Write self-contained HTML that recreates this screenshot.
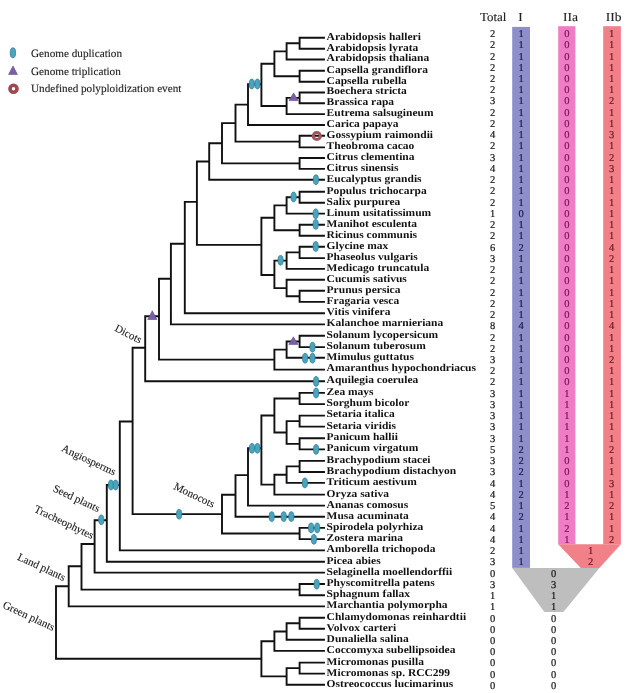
<!DOCTYPE html>
<html><head><meta charset="utf-8"><style>
html,body{margin:0;padding:0;background:#fff;}
svg{display:block;will-change:transform;} text{text-rendering:geometricPrecision;}
.nm{font-family:"Liberation Serif",serif;font-weight:bold;font-size:10.5px;fill:#111;}
.dg{font-family:"Liberation Serif",serif;font-size:10.5px;fill:#151515;stroke:#151515;stroke-width:0.2px;}
.b1{fill:#1c1c4a;stroke:#1c1c4a;} .b2{fill:#7a1458;stroke:#7a1458;} .b3{fill:#6a1a24;stroke:#6a1a24;}
.cl{font-family:"Liberation Serif",serif;font-size:11px;fill:#1a1a1a;stroke:#1a1a1a;stroke-width:0.1px;}
.lg{font-family:"Liberation Serif",serif;font-size:11.2px;fill:#222;stroke:#222;stroke-width:0.12px;}
.hd{font-family:"Liberation Serif",serif;font-size:12.3px;fill:#222;stroke:#222;stroke-width:0.12px;}
</style></head><body>
<svg width="627" height="693" viewBox="0 0 627 693">

<rect x="512.2" y="26.9" width="17.8" height="541" fill="#8d8eca"/>
<rect x="558.2" y="26.2" width="17.2" height="518.2" fill="#f07cc6"/>
<rect x="603.2" y="26.2" width="17.7" height="518.2" fill="#f28088"/>
<polygon points="558.2,544.3 620.9,544.3 599.4,567.9 580.8,567.9" fill="#f28088"/>
<polygon points="512.2,567.9 599.4,567.9 563.4,612.1 544.4,612.1" fill="#bfbebe"/>

<path d="M299.6 37.7H324.0 M299.6 48.7H324.0 M299.6 37.7V48.7 M286.6 43.2H299.6 M286.6 59.5H324.0 M286.6 43.2V59.5 M274.4 51.4H286.6 M299.6 70.8H324.0 M299.6 81.7H324.0 M299.6 70.8V81.7 M274.4 76.2H299.6 M274.4 51.4V76.2 M261.4 63.8H274.4 M299.6 92.5H324.0 M299.6 103.3H324.0 M299.6 92.5V103.3 M286.6 97.9H299.6 M286.6 114.1H324.0 M286.6 97.9V114.1 M261.4 106.0H286.6 M261.4 63.8V106.0 M248.0 84.2H261.4 M248.0 125.0H324.0 M248.0 84.2V125.0 M235.5 104.6H248.0 M299.6 135.8H324.0 M299.6 147.4H324.0 M299.6 135.8V147.4 M235.5 141.6H299.6 M235.5 104.6V141.6 M222.0 123.1H235.5 M299.6 158.0H324.0 M299.6 168.9H324.0 M299.6 158.0V168.9 M222.0 163.4H299.6 M222.0 123.1V163.4 M209.2 143.3H222.0 M209.2 179.7H324.0 M209.2 143.3V179.7 M196.9 161.5H209.2 M299.6 191.8H324.0 M299.6 202.8H324.0 M299.6 191.8V202.8 M286.6 197.3H299.6 M286.6 213.6H324.0 M286.6 197.3V213.6 M274.4 205.4H286.6 M299.6 224.8H324.0 M299.6 235.7H324.0 M299.6 224.8V235.7 M274.4 230.2H299.6 M274.4 205.4V230.2 M261.4 217.8H274.4 M299.6 246.7H324.0 M299.6 258.1H324.0 M299.6 246.7V258.1 M286.6 252.4H299.6 M286.6 268.9H324.0 M286.6 252.4V268.9 M274.4 260.6H286.6 M286.6 279.8H324.0 M299.6 290.8H324.0 M299.6 301.9H324.0 M299.6 290.8V301.9 M286.6 296.3H299.6 M286.6 279.8V296.3 M274.4 288.1H286.6 M274.4 260.6V288.1 M261.4 275.0H274.4 M261.4 217.8V275.0 M196.9 244.9H261.4 M196.9 161.5V244.9 M184.8 201.9H196.9 M184.8 313.3H324.0 M184.8 201.9V313.3 M170.9 243.7H184.8 M170.9 324.4H324.0 M170.9 243.7V324.4 M159.0 278.7H170.9 M299.6 335.8H324.0 M299.6 347.1H324.0 M299.6 335.8V347.1 M286.6 341.5H299.6 M286.6 357.8H324.0 M286.6 341.5V357.8 M274.4 349.6H286.6 M274.4 369.6H324.0 M274.4 349.6V369.6 M159.0 359.6H274.4 M159.0 278.7V359.6 M145.2 316.3H159.0 M145.2 381.2H324.0 M145.2 316.3V381.2 M132.6 347.7H145.2 M299.6 392.9H324.0 M299.6 404.1H324.0 M299.6 392.9V404.1 M274.4 398.5H299.6 M299.6 415.6H324.0 M299.6 426.6H324.0 M299.6 415.6V426.6 M286.6 421.1H299.6 M299.6 438.3H324.0 M299.6 449.4H324.0 M299.6 438.3V449.4 M286.6 443.9H299.6 M286.6 421.1V443.9 M274.4 432.5H286.6 M274.4 398.5V432.5 M261.4 415.5H274.4 M299.6 460.9H324.0 M299.6 472.0H324.0 M299.6 460.9V472.0 M286.6 466.4H299.6 M286.6 482.9H324.0 M286.6 466.4V482.9 M274.4 474.7H286.6 M274.4 494.6H324.0 M274.4 474.7V494.6 M261.4 484.6H274.4 M261.4 415.5V484.6 M248.0 448.3H261.4 M248.0 505.6H324.0 M248.0 448.3V505.6 M235.5 475.1H248.0 M235.5 516.8H324.0 M235.5 475.1V516.8 M222.0 494.8H235.5 M299.6 527.9H324.0 M299.6 539.1H324.0 M299.6 527.9V539.1 M222.0 533.5H299.6 M222.0 494.8V533.5 M132.6 514.1H222.0 M132.6 347.7V514.1 M119.8 421.5H132.6 M119.8 550.4H324.0 M119.8 421.5V550.4 M106.8 485.0H119.8 M106.8 561.7H324.0 M106.8 485.0V561.7 M94.6 520.2H106.8 M94.6 572.6H324.0 M94.6 520.2V572.6 M81.5 544.0H94.6 M299.6 584.0H324.0 M299.6 595.3H324.0 M299.6 584.0V595.3 M81.5 589.6H299.6 M81.5 544.0V589.6 M68.7 566.3H81.5 M68.7 606.4H324.0 M68.7 566.3V606.4 M56.0 586.2H68.7 M299.6 617.8H324.0 M299.6 628.8H324.0 M299.6 617.8V628.8 M286.6 623.2H299.6 M286.6 639.8H324.0 M286.6 623.2V639.8 M274.4 631.5H286.6 M274.4 650.9H324.0 M274.4 631.5V650.9 M261.4 641.2H274.4 M299.6 662.6H324.0 M299.6 673.6H324.0 M299.6 662.6V673.6 M286.6 668.1H299.6 M286.6 684.7H324.0 M286.6 668.1V684.7 M261.4 676.4H286.6 M261.4 641.2V676.4 M56.0 658.8H261.4 M56.0 586.2V658.8" stroke="#111" stroke-width="1.9" fill="none" stroke-linecap="square"/>
<ellipse cx="251.8" cy="84" rx="2.6" ry="4.9" fill="#4aa4be" stroke="#327f97" stroke-width="0.8"/><ellipse cx="257.4" cy="84" rx="2.6" ry="4.9" fill="#4aa4be" stroke="#327f97" stroke-width="0.8"/><ellipse cx="315.9" cy="179.7" rx="2.6" ry="4.9" fill="#4aa4be" stroke="#327f97" stroke-width="0.8"/><ellipse cx="293.6" cy="197" rx="2.6" ry="4.9" fill="#4aa4be" stroke="#327f97" stroke-width="0.8"/><ellipse cx="315.7" cy="213.8" rx="2.6" ry="4.9" fill="#4aa4be" stroke="#327f97" stroke-width="0.8"/><ellipse cx="315.7" cy="224.4" rx="2.6" ry="4.9" fill="#4aa4be" stroke="#327f97" stroke-width="0.8"/><ellipse cx="315.7" cy="246.5" rx="2.6" ry="4.9" fill="#4aa4be" stroke="#327f97" stroke-width="0.8"/><ellipse cx="280.6" cy="260.3" rx="2.6" ry="4.9" fill="#4aa4be" stroke="#327f97" stroke-width="0.8"/><ellipse cx="312.5" cy="347.2" rx="2.6" ry="4.9" fill="#4aa4be" stroke="#327f97" stroke-width="0.8"/><ellipse cx="305.1" cy="358.2" rx="2.6" ry="4.9" fill="#4aa4be" stroke="#327f97" stroke-width="0.8"/><ellipse cx="312.5" cy="358.2" rx="2.6" ry="4.9" fill="#4aa4be" stroke="#327f97" stroke-width="0.8"/><ellipse cx="316.1" cy="381.4" rx="2.6" ry="4.9" fill="#4aa4be" stroke="#327f97" stroke-width="0.8"/><ellipse cx="316.1" cy="393" rx="2.6" ry="4.9" fill="#4aa4be" stroke="#327f97" stroke-width="0.8"/><ellipse cx="316.1" cy="449.4" rx="2.6" ry="4.9" fill="#4aa4be" stroke="#327f97" stroke-width="0.8"/><ellipse cx="252.0" cy="448.3" rx="2.6" ry="4.9" fill="#4aa4be" stroke="#327f97" stroke-width="0.8"/><ellipse cx="257.4" cy="448.3" rx="2.6" ry="4.9" fill="#4aa4be" stroke="#327f97" stroke-width="0.8"/><ellipse cx="304.9" cy="482.9" rx="2.6" ry="4.9" fill="#4aa4be" stroke="#327f97" stroke-width="0.8"/><ellipse cx="271.7" cy="516.6" rx="2.6" ry="4.9" fill="#4aa4be" stroke="#327f97" stroke-width="0.8"/><ellipse cx="283.7" cy="516.6" rx="2.6" ry="4.9" fill="#4aa4be" stroke="#327f97" stroke-width="0.8"/><ellipse cx="291.3" cy="516.6" rx="2.6" ry="4.9" fill="#4aa4be" stroke="#327f97" stroke-width="0.8"/><ellipse cx="311.1" cy="527.9" rx="2.6" ry="4.9" fill="#4aa4be" stroke="#327f97" stroke-width="0.8"/><ellipse cx="317.2" cy="527.9" rx="2.6" ry="4.9" fill="#4aa4be" stroke="#327f97" stroke-width="0.8"/><ellipse cx="313.9" cy="539.3" rx="2.6" ry="4.9" fill="#4aa4be" stroke="#327f97" stroke-width="0.8"/><ellipse cx="179.1" cy="514.2" rx="2.6" ry="4.9" fill="#4aa4be" stroke="#327f97" stroke-width="0.8"/><ellipse cx="111.0" cy="485.0" rx="2.6" ry="4.9" fill="#4aa4be" stroke="#327f97" stroke-width="0.8"/><ellipse cx="115.7" cy="485.0" rx="2.6" ry="4.9" fill="#4aa4be" stroke="#327f97" stroke-width="0.8"/><ellipse cx="101.3" cy="519.8" rx="2.6" ry="4.9" fill="#4aa4be" stroke="#327f97" stroke-width="0.8"/><ellipse cx="316.7" cy="584.2" rx="2.6" ry="4.9" fill="#4aa4be" stroke="#327f97" stroke-width="0.8"/><polygon points="289.0,100.6 298.20000000000005,100.6 293.6,92.9" fill="#7a5fa6" stroke="#5e4a86" stroke-width="0.6"/><polygon points="147.70000000000002,319.5 156.9,319.5 152.3,310.7" fill="#7a5fa6" stroke="#5e4a86" stroke-width="0.6"/><polygon points="288.79999999999995,344.4 298.0,344.4 293.4,336.8" fill="#7a5fa6" stroke="#5e4a86" stroke-width="0.6"/><circle cx="316.8" cy="136.0" r="3.6" fill="none" stroke="#a8525a" stroke-width="3.0"/>
<text x="326.6" y="39.6" class="nm" transform="translate(326.6 0) scale(1.096 1) translate(-326.6 0)">Arabidopsis halleri</text><text x="326.6" y="50.6" class="nm" transform="translate(326.6 0) scale(1.096 1) translate(-326.6 0)">Arabidopsis lyrata</text><text x="326.6" y="61.4" class="nm" transform="translate(326.6 0) scale(1.096 1) translate(-326.6 0)">Arabidopsis thaliana</text><text x="326.6" y="72.7" class="nm" transform="translate(326.6 0) scale(1.096 1) translate(-326.6 0)">Capsella grandiflora</text><text x="326.6" y="83.6" class="nm" transform="translate(326.6 0) scale(1.096 1) translate(-326.6 0)">Capsella rubella</text><text x="326.6" y="94.4" class="nm" transform="translate(326.6 0) scale(1.096 1) translate(-326.6 0)">Boechera stricta</text><text x="326.6" y="105.2" class="nm" transform="translate(326.6 0) scale(1.096 1) translate(-326.6 0)">Brassica rapa</text><text x="326.6" y="116.0" class="nm" transform="translate(326.6 0) scale(1.096 1) translate(-326.6 0)">Eutrema salsugineum</text><text x="326.6" y="126.9" class="nm" transform="translate(326.6 0) scale(1.096 1) translate(-326.6 0)">Carica papaya</text><text x="326.6" y="137.7" class="nm" transform="translate(326.6 0) scale(1.096 1) translate(-326.6 0)">Gossypium raimondii</text><text x="326.6" y="149.3" class="nm" transform="translate(326.6 0) scale(1.096 1) translate(-326.6 0)">Theobroma cacao</text><text x="326.6" y="159.9" class="nm" transform="translate(326.6 0) scale(1.096 1) translate(-326.6 0)">Citrus clementina</text><text x="326.6" y="170.8" class="nm" transform="translate(326.6 0) scale(1.096 1) translate(-326.6 0)">Citrus sinensis</text><text x="326.6" y="181.6" class="nm" transform="translate(326.6 0) scale(1.096 1) translate(-326.6 0)">Eucalyptus grandis</text><text x="326.6" y="193.7" class="nm" transform="translate(326.6 0) scale(1.096 1) translate(-326.6 0)">Populus trichocarpa</text><text x="326.6" y="204.7" class="nm" transform="translate(326.6 0) scale(1.096 1) translate(-326.6 0)">Salix purpurea</text><text x="326.6" y="215.5" class="nm" transform="translate(326.6 0) scale(1.096 1) translate(-326.6 0)">Linum usitatissimum</text><text x="326.6" y="226.7" class="nm" transform="translate(326.6 0) scale(1.096 1) translate(-326.6 0)">Manihot esculenta</text><text x="326.6" y="237.6" class="nm" transform="translate(326.6 0) scale(1.096 1) translate(-326.6 0)">Ricinus communis</text><text x="326.6" y="248.6" class="nm" transform="translate(326.6 0) scale(1.096 1) translate(-326.6 0)">Glycine max</text><text x="326.6" y="260.0" class="nm" transform="translate(326.6 0) scale(1.096 1) translate(-326.6 0)">Phaseolus vulgaris</text><text x="326.6" y="270.8" class="nm" transform="translate(326.6 0) scale(1.096 1) translate(-326.6 0)">Medicago truncatula</text><text x="326.6" y="281.7" class="nm" transform="translate(326.6 0) scale(1.096 1) translate(-326.6 0)">Cucumis sativus</text><text x="326.6" y="292.6" class="nm" transform="translate(326.6 0) scale(1.096 1) translate(-326.6 0)">Prunus persica</text><text x="326.6" y="303.8" class="nm" transform="translate(326.6 0) scale(1.096 1) translate(-326.6 0)">Fragaria vesca</text><text x="326.6" y="315.2" class="nm" transform="translate(326.6 0) scale(1.096 1) translate(-326.6 0)">Vitis vinifera</text><text x="326.6" y="326.3" class="nm" transform="translate(326.6 0) scale(1.096 1) translate(-326.6 0)">Kalanchoe marnieriana</text><text x="326.6" y="337.7" class="nm" transform="translate(326.6 0) scale(1.096 1) translate(-326.6 0)">Solanum lycopersicum</text><text x="326.6" y="349.0" class="nm" transform="translate(326.6 0) scale(1.096 1) translate(-326.6 0)">Solanum tuberosum</text><text x="326.6" y="359.7" class="nm" transform="translate(326.6 0) scale(1.096 1) translate(-326.6 0)">Mimulus guttatus</text><text x="326.6" y="371.4" class="nm" transform="translate(326.6 0) scale(1.096 1) translate(-326.6 0)">Amaranthus hypochondriacus</text><text x="326.6" y="383.1" class="nm" transform="translate(326.6 0) scale(1.096 1) translate(-326.6 0)">Aquilegia coerulea</text><text x="326.6" y="394.8" class="nm" transform="translate(326.6 0) scale(1.096 1) translate(-326.6 0)">Zea mays</text><text x="326.6" y="406.0" class="nm" transform="translate(326.6 0) scale(1.096 1) translate(-326.6 0)">Sorghum bicolor</text><text x="326.6" y="417.4" class="nm" transform="translate(326.6 0) scale(1.096 1) translate(-326.6 0)">Setaria italica</text><text x="326.6" y="428.5" class="nm" transform="translate(326.6 0) scale(1.096 1) translate(-326.6 0)">Setaria viridis</text><text x="326.6" y="440.2" class="nm" transform="translate(326.6 0) scale(1.096 1) translate(-326.6 0)">Panicum hallii</text><text x="326.6" y="451.3" class="nm" transform="translate(326.6 0) scale(1.096 1) translate(-326.6 0)">Panicum virgatum</text><text x="326.6" y="462.8" class="nm" transform="translate(326.6 0) scale(1.096 1) translate(-326.6 0)">Brachypodium stacei</text><text x="326.6" y="473.9" class="nm" transform="translate(326.6 0) scale(1.096 1) translate(-326.6 0)">Brachypodium distachyon</text><text x="326.6" y="484.8" class="nm" transform="translate(326.6 0) scale(1.096 1) translate(-326.6 0)">Triticum aestivum</text><text x="326.6" y="496.5" class="nm" transform="translate(326.6 0) scale(1.096 1) translate(-326.6 0)">Oryza sativa</text><text x="326.6" y="507.5" class="nm" transform="translate(326.6 0) scale(1.096 1) translate(-326.6 0)">Ananas comosus</text><text x="326.6" y="518.7" class="nm" transform="translate(326.6 0) scale(1.096 1) translate(-326.6 0)">Musa acuminata</text><text x="326.6" y="529.8" class="nm" transform="translate(326.6 0) scale(1.096 1) translate(-326.6 0)">Spirodela polyrhiza</text><text x="326.6" y="541.0" class="nm" transform="translate(326.6 0) scale(1.096 1) translate(-326.6 0)">Zostera marina</text><text x="326.6" y="552.3" class="nm" transform="translate(326.6 0) scale(1.096 1) translate(-326.6 0)">Amborella trichopoda</text><text x="326.6" y="563.6" class="nm" transform="translate(326.6 0) scale(1.096 1) translate(-326.6 0)">Picea abies</text><text x="326.6" y="574.5" class="nm" transform="translate(326.6 0) scale(1.096 1) translate(-326.6 0)">Selaginella moellendorffii</text><text x="326.6" y="585.9" class="nm" transform="translate(326.6 0) scale(1.096 1) translate(-326.6 0)">Physcomitrella patens</text><text x="326.6" y="597.2" class="nm" transform="translate(326.6 0) scale(1.096 1) translate(-326.6 0)">Sphagnum fallax</text><text x="326.6" y="608.2" class="nm" transform="translate(326.6 0) scale(1.096 1) translate(-326.6 0)">Marchantia polymorpha</text><text x="326.6" y="619.6" class="nm" transform="translate(326.6 0) scale(1.096 1) translate(-326.6 0)">Chlamydomonas reinhardtii</text><text x="326.6" y="630.6" class="nm" transform="translate(326.6 0) scale(1.096 1) translate(-326.6 0)">Volvox carteri</text><text x="326.6" y="641.6" class="nm" transform="translate(326.6 0) scale(1.096 1) translate(-326.6 0)">Dunaliella salina</text><text x="326.6" y="652.8" class="nm" transform="translate(326.6 0) scale(1.096 1) translate(-326.6 0)">Coccomyxa subellipsoidea</text><text x="326.6" y="664.5" class="nm" transform="translate(326.6 0) scale(1.096 1) translate(-326.6 0)">Micromonas pusilla</text><text x="326.6" y="675.5" class="nm" transform="translate(326.6 0) scale(1.096 1) translate(-326.6 0)">Micromonas sp. RCC299</text><text x="326.6" y="686.6" class="nm" transform="translate(326.6 0) scale(1.096 1) translate(-326.6 0)">Ostreococcus lucimarinus</text>
<text x="492.7" y="37.0" class="dg" text-anchor="middle">2</text><text x="521.2" y="37.0" class="dg b1" text-anchor="middle">1</text><text x="566.8" y="37.0" class="dg b2" text-anchor="middle">0</text><text x="611.5" y="37.0" class="dg b3" text-anchor="middle">1</text><text x="492.7" y="48.2" class="dg" text-anchor="middle">2</text><text x="521.2" y="48.2" class="dg b1" text-anchor="middle">1</text><text x="566.8" y="48.2" class="dg b2" text-anchor="middle">0</text><text x="611.5" y="48.2" class="dg b3" text-anchor="middle">1</text><text x="492.7" y="59.5" class="dg" text-anchor="middle">2</text><text x="521.2" y="59.5" class="dg b1" text-anchor="middle">1</text><text x="566.8" y="59.5" class="dg b2" text-anchor="middle">0</text><text x="611.5" y="59.5" class="dg b3" text-anchor="middle">1</text><text x="492.7" y="70.7" class="dg" text-anchor="middle">2</text><text x="521.2" y="70.7" class="dg b1" text-anchor="middle">1</text><text x="566.8" y="70.7" class="dg b2" text-anchor="middle">0</text><text x="611.5" y="70.7" class="dg b3" text-anchor="middle">1</text><text x="492.7" y="82.0" class="dg" text-anchor="middle">2</text><text x="521.2" y="82.0" class="dg b1" text-anchor="middle">1</text><text x="566.8" y="82.0" class="dg b2" text-anchor="middle">0</text><text x="611.5" y="82.0" class="dg b3" text-anchor="middle">1</text><text x="492.7" y="93.2" class="dg" text-anchor="middle">2</text><text x="521.2" y="93.2" class="dg b1" text-anchor="middle">1</text><text x="566.8" y="93.2" class="dg b2" text-anchor="middle">0</text><text x="611.5" y="93.2" class="dg b3" text-anchor="middle">1</text><text x="492.7" y="104.4" class="dg" text-anchor="middle">3</text><text x="521.2" y="104.4" class="dg b1" text-anchor="middle">1</text><text x="566.8" y="104.4" class="dg b2" text-anchor="middle">0</text><text x="611.5" y="104.4" class="dg b3" text-anchor="middle">2</text><text x="492.7" y="115.7" class="dg" text-anchor="middle">2</text><text x="521.2" y="115.7" class="dg b1" text-anchor="middle">1</text><text x="566.8" y="115.7" class="dg b2" text-anchor="middle">0</text><text x="611.5" y="115.7" class="dg b3" text-anchor="middle">1</text><text x="492.7" y="126.9" class="dg" text-anchor="middle">2</text><text x="521.2" y="126.9" class="dg b1" text-anchor="middle">1</text><text x="566.8" y="126.9" class="dg b2" text-anchor="middle">0</text><text x="611.5" y="126.9" class="dg b3" text-anchor="middle">1</text><text x="492.7" y="138.2" class="dg" text-anchor="middle">4</text><text x="521.2" y="138.2" class="dg b1" text-anchor="middle">1</text><text x="566.8" y="138.2" class="dg b2" text-anchor="middle">0</text><text x="611.5" y="138.2" class="dg b3" text-anchor="middle">3</text><text x="492.7" y="149.4" class="dg" text-anchor="middle">2</text><text x="521.2" y="149.4" class="dg b1" text-anchor="middle">1</text><text x="566.8" y="149.4" class="dg b2" text-anchor="middle">0</text><text x="611.5" y="149.4" class="dg b3" text-anchor="middle">1</text><text x="492.7" y="160.6" class="dg" text-anchor="middle">3</text><text x="521.2" y="160.6" class="dg b1" text-anchor="middle">1</text><text x="566.8" y="160.6" class="dg b2" text-anchor="middle">0</text><text x="611.5" y="160.6" class="dg b3" text-anchor="middle">2</text><text x="492.7" y="171.9" class="dg" text-anchor="middle">4</text><text x="521.2" y="171.9" class="dg b1" text-anchor="middle">1</text><text x="566.8" y="171.9" class="dg b2" text-anchor="middle">0</text><text x="611.5" y="171.9" class="dg b3" text-anchor="middle">3</text><text x="492.7" y="183.1" class="dg" text-anchor="middle">2</text><text x="521.2" y="183.1" class="dg b1" text-anchor="middle">1</text><text x="566.8" y="183.1" class="dg b2" text-anchor="middle">0</text><text x="611.5" y="183.1" class="dg b3" text-anchor="middle">1</text><text x="492.7" y="194.4" class="dg" text-anchor="middle">2</text><text x="521.2" y="194.4" class="dg b1" text-anchor="middle">1</text><text x="566.8" y="194.4" class="dg b2" text-anchor="middle">0</text><text x="611.5" y="194.4" class="dg b3" text-anchor="middle">1</text><text x="492.7" y="205.6" class="dg" text-anchor="middle">2</text><text x="521.2" y="205.6" class="dg b1" text-anchor="middle">1</text><text x="566.8" y="205.6" class="dg b2" text-anchor="middle">0</text><text x="611.5" y="205.6" class="dg b3" text-anchor="middle">1</text><text x="492.7" y="216.8" class="dg" text-anchor="middle">1</text><text x="521.2" y="216.8" class="dg b1" text-anchor="middle">0</text><text x="566.8" y="216.8" class="dg b2" text-anchor="middle">0</text><text x="611.5" y="216.8" class="dg b3" text-anchor="middle">1</text><text x="492.7" y="228.1" class="dg" text-anchor="middle">2</text><text x="521.2" y="228.1" class="dg b1" text-anchor="middle">1</text><text x="566.8" y="228.1" class="dg b2" text-anchor="middle">0</text><text x="611.5" y="228.1" class="dg b3" text-anchor="middle">1</text><text x="492.7" y="239.3" class="dg" text-anchor="middle">2</text><text x="521.2" y="239.3" class="dg b1" text-anchor="middle">1</text><text x="566.8" y="239.3" class="dg b2" text-anchor="middle">0</text><text x="611.5" y="239.3" class="dg b3" text-anchor="middle">1</text><text x="492.7" y="250.6" class="dg" text-anchor="middle">6</text><text x="521.2" y="250.6" class="dg b1" text-anchor="middle">2</text><text x="566.8" y="250.6" class="dg b2" text-anchor="middle">0</text><text x="611.5" y="250.6" class="dg b3" text-anchor="middle">4</text><text x="492.7" y="261.8" class="dg" text-anchor="middle">3</text><text x="521.2" y="261.8" class="dg b1" text-anchor="middle">1</text><text x="566.8" y="261.8" class="dg b2" text-anchor="middle">0</text><text x="611.5" y="261.8" class="dg b3" text-anchor="middle">2</text><text x="492.7" y="273.0" class="dg" text-anchor="middle">2</text><text x="521.2" y="273.0" class="dg b1" text-anchor="middle">1</text><text x="566.8" y="273.0" class="dg b2" text-anchor="middle">0</text><text x="611.5" y="273.0" class="dg b3" text-anchor="middle">1</text><text x="492.7" y="284.3" class="dg" text-anchor="middle">2</text><text x="521.2" y="284.3" class="dg b1" text-anchor="middle">1</text><text x="566.8" y="284.3" class="dg b2" text-anchor="middle">0</text><text x="611.5" y="284.3" class="dg b3" text-anchor="middle">1</text><text x="492.7" y="295.5" class="dg" text-anchor="middle">2</text><text x="521.2" y="295.5" class="dg b1" text-anchor="middle">1</text><text x="566.8" y="295.5" class="dg b2" text-anchor="middle">0</text><text x="611.5" y="295.5" class="dg b3" text-anchor="middle">1</text><text x="492.7" y="306.8" class="dg" text-anchor="middle">2</text><text x="521.2" y="306.8" class="dg b1" text-anchor="middle">1</text><text x="566.8" y="306.8" class="dg b2" text-anchor="middle">0</text><text x="611.5" y="306.8" class="dg b3" text-anchor="middle">1</text><text x="492.7" y="318.0" class="dg" text-anchor="middle">2</text><text x="521.2" y="318.0" class="dg b1" text-anchor="middle">1</text><text x="566.8" y="318.0" class="dg b2" text-anchor="middle">0</text><text x="611.5" y="318.0" class="dg b3" text-anchor="middle">1</text><text x="492.7" y="329.2" class="dg" text-anchor="middle">8</text><text x="521.2" y="329.2" class="dg b1" text-anchor="middle">4</text><text x="566.8" y="329.2" class="dg b2" text-anchor="middle">0</text><text x="611.5" y="329.2" class="dg b3" text-anchor="middle">4</text><text x="492.7" y="340.5" class="dg" text-anchor="middle">2</text><text x="521.2" y="340.5" class="dg b1" text-anchor="middle">1</text><text x="566.8" y="340.5" class="dg b2" text-anchor="middle">0</text><text x="611.5" y="340.5" class="dg b3" text-anchor="middle">1</text><text x="492.7" y="351.7" class="dg" text-anchor="middle">2</text><text x="521.2" y="351.7" class="dg b1" text-anchor="middle">1</text><text x="566.8" y="351.7" class="dg b2" text-anchor="middle">0</text><text x="611.5" y="351.7" class="dg b3" text-anchor="middle">1</text><text x="492.7" y="363.0" class="dg" text-anchor="middle">3</text><text x="521.2" y="363.0" class="dg b1" text-anchor="middle">1</text><text x="566.8" y="363.0" class="dg b2" text-anchor="middle">0</text><text x="611.5" y="363.0" class="dg b3" text-anchor="middle">2</text><text x="492.7" y="374.2" class="dg" text-anchor="middle">2</text><text x="521.2" y="374.2" class="dg b1" text-anchor="middle">1</text><text x="566.8" y="374.2" class="dg b2" text-anchor="middle">0</text><text x="611.5" y="374.2" class="dg b3" text-anchor="middle">1</text><text x="492.7" y="385.4" class="dg" text-anchor="middle">2</text><text x="521.2" y="385.4" class="dg b1" text-anchor="middle">1</text><text x="566.8" y="385.4" class="dg b2" text-anchor="middle">0</text><text x="611.5" y="385.4" class="dg b3" text-anchor="middle">1</text><text x="492.7" y="396.7" class="dg" text-anchor="middle">3</text><text x="521.2" y="396.7" class="dg b1" text-anchor="middle">1</text><text x="566.8" y="396.7" class="dg b2" text-anchor="middle">1</text><text x="611.5" y="396.7" class="dg b3" text-anchor="middle">1</text><text x="492.7" y="407.9" class="dg" text-anchor="middle">3</text><text x="521.2" y="407.9" class="dg b1" text-anchor="middle">1</text><text x="566.8" y="407.9" class="dg b2" text-anchor="middle">1</text><text x="611.5" y="407.9" class="dg b3" text-anchor="middle">1</text><text x="492.7" y="419.2" class="dg" text-anchor="middle">3</text><text x="521.2" y="419.2" class="dg b1" text-anchor="middle">1</text><text x="566.8" y="419.2" class="dg b2" text-anchor="middle">1</text><text x="611.5" y="419.2" class="dg b3" text-anchor="middle">1</text><text x="492.7" y="430.4" class="dg" text-anchor="middle">3</text><text x="521.2" y="430.4" class="dg b1" text-anchor="middle">1</text><text x="566.8" y="430.4" class="dg b2" text-anchor="middle">1</text><text x="611.5" y="430.4" class="dg b3" text-anchor="middle">1</text><text x="492.7" y="441.6" class="dg" text-anchor="middle">3</text><text x="521.2" y="441.6" class="dg b1" text-anchor="middle">1</text><text x="566.8" y="441.6" class="dg b2" text-anchor="middle">1</text><text x="611.5" y="441.6" class="dg b3" text-anchor="middle">1</text><text x="492.7" y="452.9" class="dg" text-anchor="middle">5</text><text x="521.2" y="452.9" class="dg b1" text-anchor="middle">2</text><text x="566.8" y="452.9" class="dg b2" text-anchor="middle">1</text><text x="611.5" y="452.9" class="dg b3" text-anchor="middle">2</text><text x="492.7" y="464.1" class="dg" text-anchor="middle">3</text><text x="521.2" y="464.1" class="dg b1" text-anchor="middle">2</text><text x="566.8" y="464.1" class="dg b2" text-anchor="middle">0</text><text x="611.5" y="464.1" class="dg b3" text-anchor="middle">1</text><text x="492.7" y="475.4" class="dg" text-anchor="middle">3</text><text x="521.2" y="475.4" class="dg b1" text-anchor="middle">2</text><text x="566.8" y="475.4" class="dg b2" text-anchor="middle">0</text><text x="611.5" y="475.4" class="dg b3" text-anchor="middle">1</text><text x="492.7" y="486.6" class="dg" text-anchor="middle">4</text><text x="521.2" y="486.6" class="dg b1" text-anchor="middle">1</text><text x="566.8" y="486.6" class="dg b2" text-anchor="middle">0</text><text x="611.5" y="486.6" class="dg b3" text-anchor="middle">3</text><text x="492.7" y="497.8" class="dg" text-anchor="middle">4</text><text x="521.2" y="497.8" class="dg b1" text-anchor="middle">2</text><text x="566.8" y="497.8" class="dg b2" text-anchor="middle">1</text><text x="611.5" y="497.8" class="dg b3" text-anchor="middle">1</text><text x="492.7" y="509.1" class="dg" text-anchor="middle">5</text><text x="521.2" y="509.1" class="dg b1" text-anchor="middle">1</text><text x="566.8" y="509.1" class="dg b2" text-anchor="middle">2</text><text x="611.5" y="509.1" class="dg b3" text-anchor="middle">2</text><text x="492.7" y="520.3" class="dg" text-anchor="middle">4</text><text x="521.2" y="520.3" class="dg b1" text-anchor="middle">2</text><text x="566.8" y="520.3" class="dg b2" text-anchor="middle">1</text><text x="611.5" y="520.3" class="dg b3" text-anchor="middle">1</text><text x="492.7" y="531.6" class="dg" text-anchor="middle">4</text><text x="521.2" y="531.6" class="dg b1" text-anchor="middle">1</text><text x="566.8" y="531.6" class="dg b2" text-anchor="middle">2</text><text x="611.5" y="531.6" class="dg b3" text-anchor="middle">1</text><text x="492.7" y="542.8" class="dg" text-anchor="middle">4</text><text x="521.2" y="542.8" class="dg b1" text-anchor="middle">1</text><text x="566.8" y="542.8" class="dg b2" text-anchor="middle">1</text><text x="611.5" y="542.8" class="dg b3" text-anchor="middle">2</text><text x="492.7" y="554.0" class="dg" text-anchor="middle">2</text><text x="521.2" y="554.0" class="dg b1" text-anchor="middle">1</text><text x="590.5" y="554.0" class="dg b3" text-anchor="middle">1</text><text x="492.7" y="565.3" class="dg" text-anchor="middle">3</text><text x="521.2" y="565.3" class="dg b1" text-anchor="middle">1</text><text x="590.5" y="565.3" class="dg b3" text-anchor="middle">2</text><text x="492.7" y="576.5" class="dg" text-anchor="middle">0</text><text x="553.5" y="576.5" class="dg" text-anchor="middle">0</text><text x="492.7" y="587.8" class="dg" text-anchor="middle">3</text><text x="553.5" y="587.8" class="dg" text-anchor="middle">3</text><text x="492.7" y="599.0" class="dg" text-anchor="middle">1</text><text x="553.5" y="599.0" class="dg" text-anchor="middle">1</text><text x="492.7" y="610.2" class="dg" text-anchor="middle">1</text><text x="553.5" y="610.2" class="dg" text-anchor="middle">1</text><text x="492.7" y="621.5" class="dg" text-anchor="middle">0</text><text x="553.5" y="621.5" class="dg" text-anchor="middle">0</text><text x="492.7" y="632.7" class="dg" text-anchor="middle">0</text><text x="553.5" y="632.7" class="dg" text-anchor="middle">0</text><text x="492.7" y="644.0" class="dg" text-anchor="middle">0</text><text x="553.5" y="644.0" class="dg" text-anchor="middle">0</text><text x="492.7" y="655.2" class="dg" text-anchor="middle">0</text><text x="553.5" y="655.2" class="dg" text-anchor="middle">0</text><text x="492.7" y="666.4" class="dg" text-anchor="middle">0</text><text x="553.5" y="666.4" class="dg" text-anchor="middle">0</text><text x="492.7" y="677.7" class="dg" text-anchor="middle">0</text><text x="553.5" y="677.7" class="dg" text-anchor="middle">0</text><text x="492.7" y="688.9" class="dg" text-anchor="middle">0</text><text x="553.5" y="688.9" class="dg" text-anchor="middle">0</text>
<text x="113.9" y="330.6" class="cl" transform="rotate(27 113.9 330.6)">Dicots</text><text x="173.0" y="488.7" class="cl" transform="rotate(26 173.0 488.7)">Monocots</text><text x="60.8" y="450.8" class="cl" transform="rotate(25 60.8 450.8)">Angiosperms</text><text x="52.2" y="491.0" class="cl" transform="rotate(25 52.2 491.0)">Seed plants</text><text x="33.5" y="511.5" class="cl" transform="rotate(25.5 33.5 511.5)">Tracheophytes</text><text x="16.7" y="559.4" class="cl" transform="rotate(25 16.7 559.4)">Land plants</text><text x="1.9" y="607.4" class="cl" transform="rotate(25 1.9 607.4)">Green plants</text>

<ellipse cx="12.9" cy="52.8" rx="2.7" ry="5.0" fill="#4aa4be" stroke="#327f97" stroke-width="0.8"/>
<polygon points="8.6,74.4 17.4,74.4 13,65.9" fill="#7a5fa6" stroke="#5e4a86" stroke-width="0.6"/>
<circle cx="13.5" cy="88.8" r="3.5" fill="#fff" stroke="#a04850" stroke-width="3.6"/>
<text x="31" y="56.5" class="lg">Genome duplication</text>
<text x="31" y="74.6" class="lg">Genome triplication</text>
<text x="31" y="92.1" class="lg">Undefined polyploidization event</text>
<g transform="translate(480 0) scale(1.05 1) translate(-480 0)"><text x="480" y="20.6" class="hd">Total</text></g>
<g transform="translate(520.6 0) scale(1.08 1) translate(-520.6 0)"><text x="520.6" y="20.6" class="hd" text-anchor="middle">I</text></g>
<g transform="translate(570.6 0) scale(1.1 1) translate(-570.6 0)"><text x="570.6" y="20.6" class="hd" text-anchor="middle">IIa</text></g>
<g transform="translate(613.6 0) scale(1.1 1) translate(-613.6 0)"><text x="613.6" y="20.6" class="hd" text-anchor="middle">IIb</text></g>

</svg>
</body></html>
